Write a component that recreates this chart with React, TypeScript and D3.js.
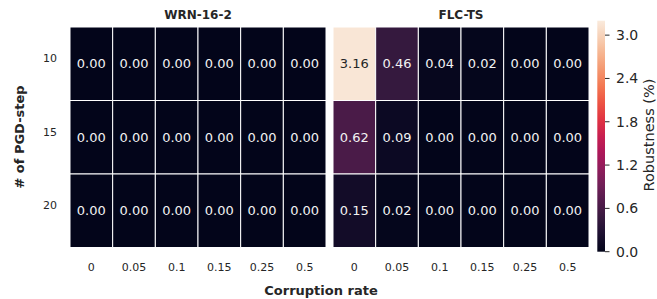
import React from "react";
import * as d3 from "d3";

const xCats = ["0", "0.05", "0.1", "0.15", "0.25", "0.5"];
const yCats = ["10", "15", "20"];
const panelTitles = ["WRN-16-2", "FLC-TS"];
const wrnValues = [
  [0, 0, 0, 0, 0, 0],
  [0, 0, 0, 0, 0, 0],
  [0, 0, 0, 0, 0, 0],
];
const flcValues = [
  [3.16, 0.46, 0.04, 0.02, 0.0, 0.0],
  [0.62, 0.09, 0.0, 0.0, 0.0, 0.0],
  [0.15, 0.02, 0.0, 0.0, 0.0, 0.0],
];
const cbTicks = [0, 0.6, 1.2, 1.8, 2.4, 3.0];
const vmax = 3.2;

const rocketStops = [
  "#03051A", "#1b1030", "#35193e", "#521c4c", "#701f57", "#8e1d5b", "#ad1759",
  "#c81f50", "#e13342", "#ec5343", "#f37651", "#f4966e", "#f6b48f", "#f7d0b6", "#FAEBDD",
];
const rocket = d3.scaleLinear<string>()
  .domain(rocketStops.map((_, i) => i / (rocketStops.length - 1)))
  .range(rocketStops)
  .interpolate(d3.interpolateRgb);

const color = (v: number) => rocket(Math.max(0, Math.min(1, v / vmax)));

const FONT = "DejaVu Sans, sans-serif";
const TXT = "#262626";

function Panel({ values, x0, x1, y0, y1, title, showY }: any) {
  const xs = d3.scaleBand().domain(xCats).range([x0, x1]);
  const ys = d3.scaleBand().domain(yCats).range([y0, y1]);
  return (
    <g>
      <text x={(x0 + x1) / 2} y={15} textAnchor="middle" dominantBaseline="central"
        fontFamily={FONT} fontWeight="bold" fontSize={12} fill={TXT}>{title}</text>
      {yCats.map((yc, i) =>
        xCats.map((xc, j) => {
          const v = values[i][j];
          const c = d3.color(color(v))!.rgb();
          const lum = 0.299 * c.r + 0.587 * c.g + 0.114 * c.b;
          return (
            <g key={`${i}-${j}`}>
              <rect x={xs(xc)} y={ys(yc)} width={xs.bandwidth()} height={ys.bandwidth()}
                fill={color(v)} stroke="#ffffff" strokeWidth={1} />
              <text x={xs(xc)! + xs.bandwidth() / 2} y={ys(yc)! + ys.bandwidth() / 2}
                textAnchor="middle" dominantBaseline="central" fontFamily={FONT} fontSize={13}
                fill={lum > 140 ? TXT : "#f2f2f2"}>{v.toFixed(2)}</text>
            </g>
          );
        })
      )}
      {xCats.map((xc) => (
        <text key={xc} x={xs(xc)! + xs.bandwidth() / 2} y={267} textAnchor="middle"
          dominantBaseline="central" fontFamily={FONT} fontSize={11} fill={TXT}>{xc}</text>
      ))}
      {showY && yCats.map((yc) => (
        <text key={yc} x={57} y={ys(yc)! + ys.bandwidth() / 2 - 5} textAnchor="end"
          dominantBaseline="central" fontFamily={FONT} fontSize={11} fill={TXT}>{yc}</text>
      ))}
    </g>
  );
}

export default function App() {
  const y0 = 27, y1 = 247.5;
  const cbY = d3.scaleLinear().domain([0, vmax]).range([251.7, 20.7]);
  const gradStops = d3.range(0, 1.0001, 0.02);
  return (
    <svg width={657} height={299} style={{ position: "absolute", left: 0, top: 0, background: "#fff" }}>
      <defs>
        <linearGradient id="cbgrad" x1="0" y1="1" x2="0" y2="0">
          {gradStops.map((t) => (
            <stop key={t} offset={t} stopColor={rocket(t)} />
          ))}
        </linearGradient>
      </defs>
      <rect x={0} y={0} width={657} height={299} fill="#fff" />
      <Panel values={wrnValues} x0={70} x1={326} y0={y0} y1={y1} title={panelTitles[0]} showY />
      <Panel values={flcValues} x0={333} x1={589} y0={y0} y1={y1} title={panelTitles[1]} showY={false} />
      <rect x={597.3} y={cbY(vmax)} width={7.7} height={cbY(0) - cbY(vmax)} fill="url(#cbgrad)" />
      {cbTicks.map((t) => (
        <g key={t}>
          <line x1={605} x2={609.5} y1={cbY(t)} y2={cbY(t)} stroke={TXT} strokeWidth={1} />
          <text x={616} y={cbY(t)} dominantBaseline="central" fontFamily={FONT} fontSize={14}
            fill={TXT}>{t.toFixed(1)}</text>
        </g>
      ))}
      <text transform={`translate(649,135) rotate(-90)`} textAnchor="middle" dominantBaseline="central"
        fontFamily={FONT} fontSize={14.5} fill={TXT}>Robustness (%)</text>
      <text transform={`translate(19,137) rotate(-90)`} textAnchor="middle" dominantBaseline="central"
        fontFamily={FONT} fontWeight="bold" fontSize={13} fill={TXT}># of PGD-step</text>
      <text x={321} y={290} textAnchor="middle" dominantBaseline="central"
        fontFamily={FONT} fontWeight="bold" fontSize={13} fill={TXT}>Corruption rate</text>
    </svg>
  );
}
